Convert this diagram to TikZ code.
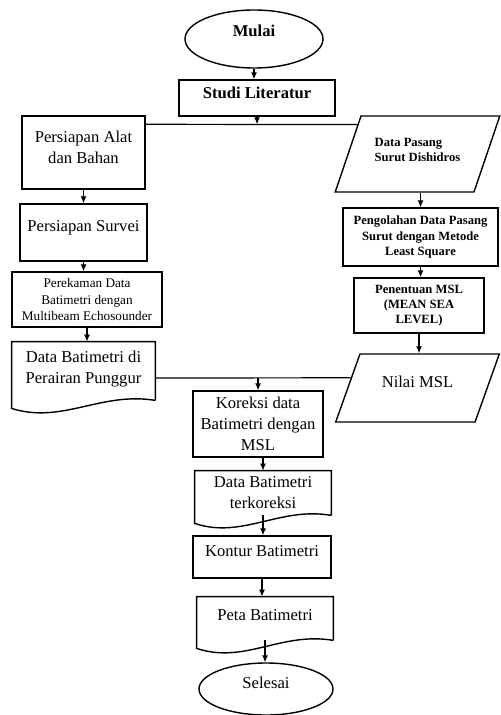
\documentclass[tikz,border=0pt]{standalone}
\usepackage{fontspec}
\setmainfont{Liberation Serif}
\usetikzlibrary{shapes.geometric,calc,arrows.meta}

\newcommand{\bodyfont}{\fontsize{8.3}{10.5}\selectfont}
\newcommand{\smallfont}{\fontsize{6.6}{8.2}\selectfont}
\newcommand{\tinybold}{\fontsize{6.3}{7.6}\selectfont\bfseries}

\tikzset{
  box/.style={draw,rectangle,line width=0.7pt,align=center,inner sep=1pt,font=\bodyfont},
  oval/.style={draw,ellipse,line width=0.7pt,inner sep=0pt,font=\bodyfont},
  datain/.style={draw,trapezium,trapezium left angle=60,trapezium right angle=120,
    trapezium stretches=true,line width=0.7pt,inner sep=1pt,font=\bodyfont},
  docbox/.style={rectangle,align=center,inner sep=1pt,font=\bodyfont},
  link/.style={line width=0.6pt,-{Latex[length=3.5pt,width=3pt]}},
  wire/.style={line width=0.6pt}
}

% outline of a document symbol around a node, wavy bottom edge
\newcommand{\docline}[1]{%
  \draw[line width=0.7pt] (#1.south east) -- (#1.north east) -- (#1.north west)
    -- ($(#1.south west)+(0,8)$)
    .. controls ($(#1.south west)!0.35!(#1.south east)+(0,24)$)
    and ($(#1.south west)!0.62!(#1.south east)+(0,-9)$) .. (#1.south east);}

\begin{document}
\begin{tikzpicture}[x=0.5pt,y=-0.5pt]
  \useasboundingbox (0,0) rectangle (500,715);

  % middle column, top
  \node[oval,minimum width=69pt,minimum height=29pt,text depth=8pt,font=\bodyfont\bfseries] (mulai) at (254,39) {Mulai};
  \node[box,minimum width=78pt,minimum height=18pt,text depth=5pt,font=\bodyfont\bfseries] (studi) at (257,98) {Studi Literatur};

  % left column
  \node[box,minimum width=61.5pt,minimum height=36.5pt,text depth=5pt] (alat) at (83.5,152.5) {Persiapan Alat\\dan Bahan};
  \node[box,minimum width=63.5pt,minimum height=28.5pt,text depth=6pt] (survei) at (83.5,232.5) {Persiapan Survei};
  \node[box,minimum width=75pt,minimum height=27.5pt,font=\smallfont] (rekam) at (87,299.5) {Perekaman Data\\Batimetri dengan\\Multibeam Echosounder};
  \node[docbox,minimum width=71.5pt,minimum height=29pt,text depth=3.8pt] (dataBat) at (83.5,371) {Data Batimetri di\\Perairan Punggur};
  \docline{dataBat}

  % right column
  \node[datain,minimum width=82.5pt,minimum height=38pt,align=left,text depth=4pt,font=\tinybold] (pasang) at (417.5,154) {Data Pasang\\Surut Dishidros};
  \node[box,minimum width=77.5pt,minimum height=29pt,font=\tinybold] (olah) at (420.5,237) {Pengolahan Data Pasang\\Surut dengan Metode\\Least Square};
  \node[box,minimum width=65pt,minimum height=27.5pt,font=\tinybold] (msl) at (419,305.5) {Penentuan MSL\\(MEAN SEA\\LEVEL)};
  \node[datain,minimum width=82pt,minimum height=34pt,text depth=6pt] (nilai) at (417.5,388) {Nilai MSL};

  % middle column, bottom
  \node[box,minimum width=65pt,minimum height=33pt] (koreksi) at (258,424) {Koreksi data\\Batimetri dengan\\MSL};
  \node[docbox,minimum width=68pt,minimum height=22pt] (terkoreksi) at (263,493) {Data Batimetri\\terkoreksi};
  \docline{terkoreksi}
  \node[box,minimum width=69pt,minimum height=21pt,text depth=6pt] (kontur) at (262,557) {Kontur Batimetri};
  \node[docbox,minimum width=68pt,minimum height=21.5pt,text depth=3.5pt] (peta) at (265,618.5) {Peta Batimetri};
  \docline{peta}
  \node[oval,minimum width=67pt,minimum height=26pt,text depth=6pt] (selesai) at (266,689) {Selesai};

  % connectors
  \coordinate (busL) at ($(alat.north east)+(0,9)$);
  \coordinate (busR) at ($(pasang.bottom left corner)!0.88!(pasang.top left corner)$);
  \coordinate (join) at (258,378);
  \draw[link] (mulai.south) -- (mulai.south |- studi.north);
  \draw[link] (studi.south) -- (studi.south |- busL);
  \draw[wire] (busL) -- (busR);
  \draw[link] (alat.south) -- (survei.north);
  \draw[link] (survei.south) -- (survei.south |- rekam.north);
  \draw[link] (rekam.south) -- (rekam.south |- dataBat.north);
  \draw[link] (olah.north |- pasang.south) -- (olah.north);
  \draw[link] (olah.south) -- (olah.south |- msl.north);
  \draw[link] (msl.south) -- (msl.south |- nilai.north);
  \draw[wire] (dataBat.east |- join) -- ($(nilai.bottom left corner)!0.647!(nilai.top left corner)$);
  \draw[link] (join) -- (koreksi.north);
  \draw[link] (terkoreksi.north |- koreksi.south) -- (terkoreksi.north);
  \draw[link] (terkoreksi.south) -- (terkoreksi.south |- kontur.north);
  \draw[link] (kontur.south) -- (kontur.south |- peta.north);
  \draw[link] (peta.south) -- (peta.south |- selesai.north);
\end{tikzpicture}
\end{document}
